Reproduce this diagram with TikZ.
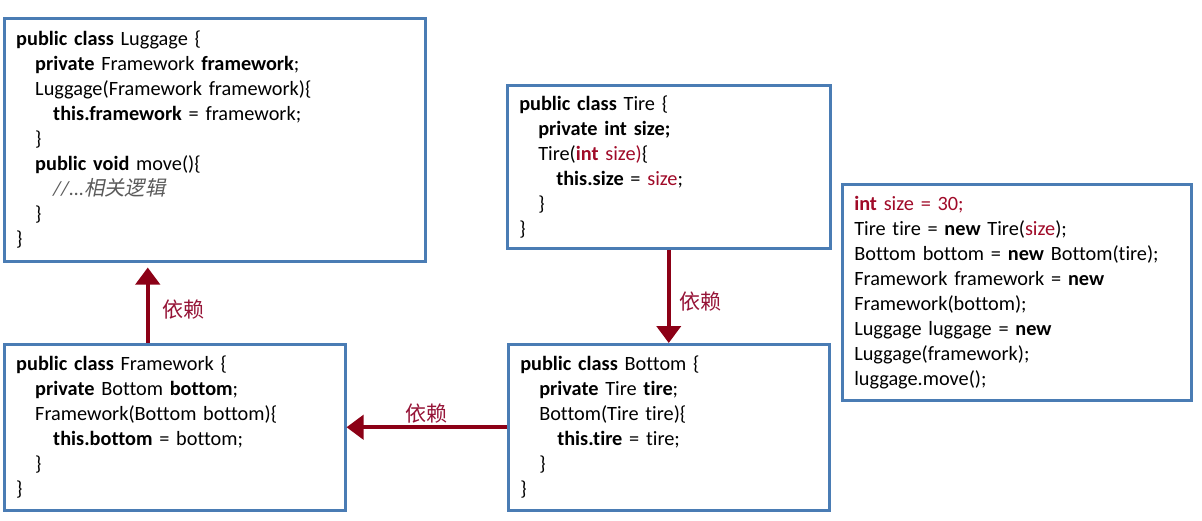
\documentclass[tikz,border=0pt]{standalone}
\usepackage{fontspec}
\setmainfont[RawFeature=-liga]{Carlito}
\newfontfamily\cjk{Noto Sans CJK SC}
\newfontfamily\cjkit[FakeSlant=0.2]{Noto Sans CJK SC}
\usepackage{xcolor}
\usetikzlibrary{arrows.meta,positioning,calc}
\definecolor{boxblue}{RGB}{74,124,180}
\definecolor{deparrow}{RGB}{140,0,22}
\definecolor{deptext}{RGB}{150,20,55}
\definecolor{codered}{RGB}{160,10,40}
\definecolor{commentgray}{RGB}{90,90,90}
\newcommand{\kw}[1]{\textbf{#1}}
\newcommand{\rd}[1]{\textcolor{codered}{#1}}
\newcommand{\ia}{\hspace*{19pt}}
\newcommand{\ib}{\hspace*{37pt}}

\begin{document}
\begin{tikzpicture}[x=1pt,y=-1pt,
    codebox/.style={draw=boxblue,line width=2.5pt,fill=white,
      inner xsep=12pt,inner ysep=4pt,align=left,anchor=north west,
      font=\fontsize{20.3}{25}\selectfont},
    dep/.style={draw=deparrow,line width=4pt,
      -{Triangle[width=24pt,length=17pt]}},
    deplabel/.style={text=deptext,font=\cjk\fontsize{21}{22}\selectfont}]
  \useasboundingbox[fill=white] (0,0) rectangle (1202,520);

  % code boxes
  \node[codebox,text width=397pt,minimum height=243pt] (luggage) at (3,17)
    {\kw{public class} Luggage \{\\
     \ia\kw{private} Framework \kw{framework};\\
     \ia Luggage(Framework framework)\{\\
     \ib\kw{this.framework} = framework;\\
     \ia\}\\
     \ia\kw{public void} move()\{\\
     \ib{\color{commentgray}\itshape //...\cjkit 相关逻辑}\\
     \ia\}\\
     \}};
  \node[codebox,text width=299pt,minimum height=163pt] (tire) at (506,84)
    {\kw{public class} Tire \{\\
     \ia\kw{private int size;}\\
     \ia Tire(\rd{\kw{int} size)}\{\\
     \ib\kw{this.size} = \rd{size};\\
     \ia\}\\
     \}};
  \node[codebox,text width=325pt,minimum height=216pt] (main) at (841,183)
    {\rd{\kw{int} size = 30;}\\
     Tire tire = \kw{new} Tire(\rd{size});\\
     Bottom bottom = \kw{new} Bottom(tire);\\
     Framework framework = \kw{new}\\
     Framework(bottom);\\
     Luggage luggage = \kw{new}\\
     Luggage(framework);\\
     luggage.move();};
  \node[codebox,text width=317pt,minimum height=166pt] (framework) at (3,343)
    {\kw{public class} Framework \{\\
     \ia\kw{private} Bottom \kw{bottom};\\
     \ia Framework(Bottom bottom)\{\\
     \ib\kw{this.bottom} = bottom;\\
     \ia\}\\
     \}};
  \node[codebox,text width=297pt,minimum height=166pt] (bottom) at (507,343)
    {\kw{public class} Bottom \{\\
     \ia\kw{private} Tire \kw{tire};\\
     \ia Bottom(Tire tire)\{\\
     \ib\kw{this.tire} = tire;\\
     \ia\}\\
     \}};

  % dependencies
  \draw[dep,shorten >=5pt] ([xshift=-27pt]framework.north) -- ([xshift=-27pt]framework.north |- luggage.south)
    node[deplabel,pos=0.42,right=9pt] (lblup) {依赖};
  \draw[dep] (tire.south) -- (bottom.north)
    node[deplabel,midway,right=5pt,yshift=-5pt] (lbldown) {依赖};
  \draw[dep] (bottom.west) -- (framework.east)
    node[deplabel,midway,above=-1pt] (lblleft) {依赖};
\end{tikzpicture}
\end{document}
